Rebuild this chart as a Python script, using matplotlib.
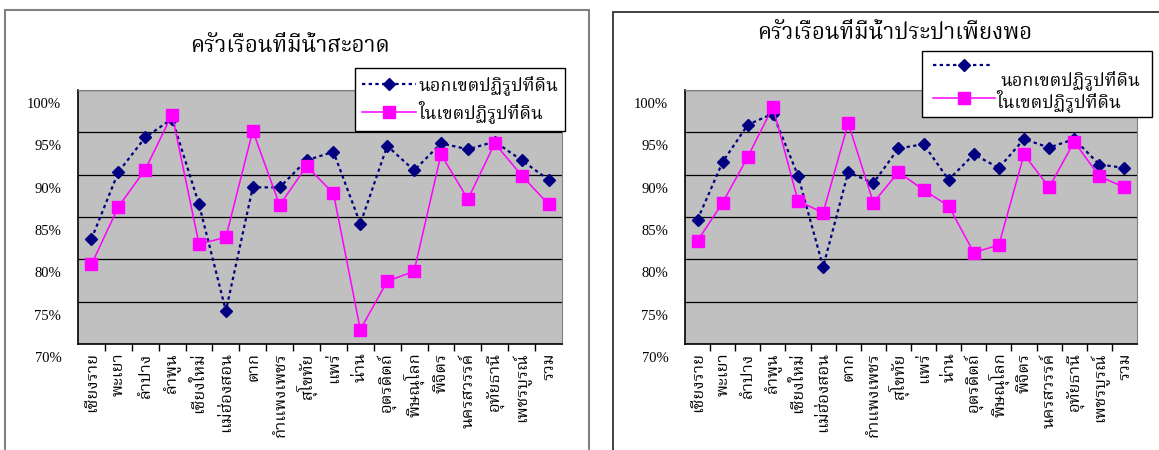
import matplotlib
matplotlib.use('Agg')
import matplotlib.pyplot as plt
import matplotlib.transforms as mtransforms
from matplotlib import font_manager
from matplotlib.lines import Line2D
from matplotlib.patches import Rectangle

# จังหวัด
provinces = ['เชียงราย', 'พะเยา', 'ลำปาง', 'ลำพูน', 'เชียงใหม่', 'แม่ฮ่องสอน', 'ตาก',
             'กำแพงเพชร', 'สุโขทัย', 'แพร่', 'น่าน', 'อุตรดิตถ์', 'พิษณุโลก', 'พิจิตร',
             'นครสวรรค์', 'อุทัยธานี', 'เพชรบูรณ์', 'รวม']

# ครัวเรือนที่มีน้ำสะอาด (%)
clean_out = [82.4, 90.3, 94.4, 96.6, 86.5, 73.9, 88.5, 88.5, 91.7, 92.7,
             84.2, 93.4, 90.5, 93.7, 93.0, 93.9, 91.7, 89.4]
clean_in = [79.4, 86.2, 90.6, 97.1, 81.8, 82.6, 95.2, 86.4, 91.0, 87.8,
            71.7, 77.4, 78.6, 92.4, 87.1, 93.7, 89.9, 86.5]

# ครัวเรือนที่มีน้ำประปาเพียงพอ (%)
tap_out = [84.7, 91.5, 95.9, 97.2, 89.9, 79.1, 90.3, 89.0, 93.1, 93.6,
           89.4, 92.4, 90.8, 94.2, 93.2, 94.2, 91.2, 90.8]
tap_in = [82.2, 86.7, 92.1, 98.0, 86.9, 85.5, 96.1, 86.7, 90.3, 88.2,
          86.3, 80.8, 81.7, 92.4, 88.5, 93.9, 89.8, 88.5]

yticks = [70, 75, 80, 85, 90, 95, 100]
ytick_labels = ['70%', '75%', '80%', '85%', '90%', '95%', '100%']
label_out = 'นอกเขตปฏิรูปที่ดิน'
label_in = 'ในเขตปฏิรูปที่ดิน'
titles = ['ครัวเรือนที่มีน้ำสะอาด', 'ครัวเรือนที่มีน้ำประปาเพียงพอ']


# หาฟอนต์ที่มีอักษรไทย
def find_thai_font():
    try:
        from fontTools.ttLib import TTFont
    except Exception:
        return None
    found = []
    for f in font_manager.fontManager.ttflist:
        try:
            tt = TTFont(f.fname, fontNumber=0, lazy=True)
            cmap = tt.getBestCmap()
            if cmap and 0x0E01 in cmap and 0x0E33 in cmap:
                found.append(f.name)
        except Exception:
            pass
    for pref in ['Norasi', 'Noto Serif Thai', 'Garuda', 'Loma', 'Noto Sans Thai']:
        if pref in found:
            return pref
    return found[0] if found else None


thai = find_thai_font()
thai_family = [thai, 'DejaVu Sans'] if thai else ['DejaVu Sans']
num_family = ['Liberation Serif', 'DejaVu Serif']

W, H = 1159, 450
fig = plt.figure(figsize=(W / 100, H / 100), dpi=100)


def fx(px):
    return px / W


def fy(py):
    return 1 - py / H


# กรอบแผนภูมิ
fig.add_artist(Rectangle((fx(5), fy(470)), fx(589) - fx(5), fy(10) - fy(470),
                         transform=fig.transFigure, fill=False, edgecolor='#808080', lw=1.5))
fig.add_artist(Rectangle((fx(613), fy(470)), fx(1175) - fx(613), fy(12) - fy(470),
                         transform=fig.transFigure, fill=False, edgecolor='#202020', lw=1.2))

panels = [
    (78, 562, clean_out, clean_in, 290, 46),
    (685, 1137, tap_out, tap_in, 895, 33),
]
x = list(range(len(provinces)))

axes = []
for i, (x0, x1, out_v, in_v, tx, ty) in enumerate(panels):
    ax = fig.add_axes([fx(x0), fy(344), fx(x1) - fx(x0), fy(90) - fy(344)])
    ax.set_facecolor('#C0C0C0')
    ax.plot(x, out_v, color='#000080', linestyle=(0, (1.5, 1.5)), linewidth=1.6,
            marker='D', markersize=6.5, label=label_out, zorder=3)
    ax.plot(x, in_v, color='#FF00FF', linestyle='-', linewidth=1.1,
            marker='s', markersize=8, label=label_in, zorder=4)
    ax.set_xlim(-0.5, len(provinces) - 0.5)
    ax.set_ylim(70, 100)
    ax.set_yticks(yticks)
    ax.set_yticklabels(ytick_labels, family=num_family, fontsize=10.5)
    ax.yaxis.grid(True, color='black', linewidth=0.9)
    ax.set_axisbelow(True)
    ax.tick_params(axis='y', length=0, pad=12)
    # ป้ายแกน y เลื่อนลงเหมือนต้นฉบับ
    off = mtransforms.ScaledTranslation(0, -13 / 100, fig.dpi_scale_trans)
    for lab in ax.get_yticklabels():
        lab.set_transform(lab.get_transform() + off)
    ax.set_xticks(x)
    ax.set_xticklabels(provinces, rotation=90, family=thai_family, fontsize=12,
                       va='top', ha='center')
    ax.set_xticks([v + 0.5 for v in x[:-1]], minor=True)
    ax.tick_params(axis='x', which='major', length=0, pad=6)
    ax.tick_params(axis='x', which='minor', length=5, width=1, color='black', direction='out')
    for s in ['top', 'right']:
        ax.spines[s].set_color('#808080')
    for s in ['left', 'bottom']:
        ax.spines[s].set_color('black')
        ax.spines[s].set_linewidth(1.2)
    fig.text(fx(tx), fy(ty), titles[i], family=thai_family, fontsize=16,
             ha='center', va='center')
    axes.append(ax)

# คำอธิบายสัญลักษณ์ (ซ้าย)
leg = axes[0].legend(loc='upper left', bbox_to_anchor=(fx(355), fy(68)),
                     bbox_transform=fig.transFigure, prop={'family': thai_family, 'size': 13},
                     frameon=True, fancybox=False, edgecolor='black', framealpha=1,
                     handlelength=3.0, handletextpad=0.1, borderpad=0.4, labelspacing=0.3,
                     borderaxespad=0)
leg.get_frame().set_linewidth(1.0)

# คำอธิบายสัญลักษณ์ (ขวา) ข้อความบรรทัดแรกขึ้นบรรทัดใหม่
fig.add_artist(Rectangle((fx(922), fy(117)), fx(1152) - fx(922), fy(51) - fy(117),
                         transform=fig.transFigure, facecolor='white', edgecolor='black',
                         lw=1.0, zorder=10))
fig.add_artist(Line2D([fx(933), fx(993)], [fy(65), fy(65)], transform=fig.transFigure,
                      color='#000080', linestyle=(0, (1.5, 1.5)), linewidth=1.6, zorder=11))
fig.add_artist(Line2D([fx(964)], [fy(65)], transform=fig.transFigure, color='#000080',
                      marker='D', markersize=6.5, zorder=12))
fig.text(fx(1000), fy(80), label_out, family=thai_family, fontsize=13,
         ha='left', va='center', zorder=12)
fig.add_artist(Line2D([fx(933), fx(995)], [fy(98), fy(98)], transform=fig.transFigure,
                      color='#FF00FF', linestyle='-', linewidth=1.1, zorder=11))
fig.add_artist(Line2D([fx(964)], [fy(98)], transform=fig.transFigure, color='#FF00FF',
                      marker='s', markersize=8, zorder=12))
fig.text(fx(996), fy(101), label_in, family=thai_family, fontsize=13,
         ha='left', va='center', zorder=12)

plt.savefig('out.png', dpi=100)
